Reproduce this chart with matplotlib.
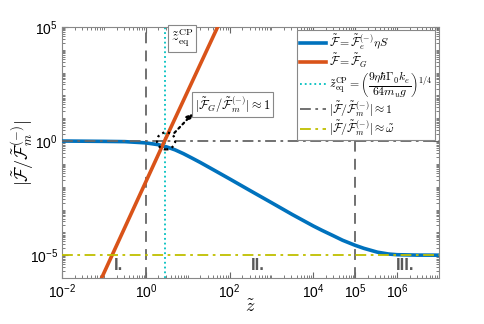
import numpy as np
import matplotlib
matplotlib.use('Agg')
import matplotlib.pyplot as plt
from matplotlib.patches import Ellipse
from matplotlib.ticker import LogLocator, NullFormatter, FixedLocator

plt.rcParams['mathtext.fontset'] = 'cm'
plt.rcParams['font.family'] = ['Liberation Sans', 'DejaVu Sans']

# values
z_blue = [1e-2, 0.1, 0.316, 1.0, 2.0, 3.16, 5.0, 7.9, 12.6, 20, 31.6, 56, 100,
          316, 1e3, 3.16e3, 1e4, 1.6e4, 3e4, 5e4, 1e5, 1.6e5, 3.4e5, 6.3e5,
          1e6, 3.16e6, 1e7]
F_blue = [1.0, 0.966, 0.94, 0.83, 0.69, 0.55, 0.41, 0.28, 0.18, 0.115, 0.072,
          0.040, 0.022, 6.6e-3, 2.0e-3, 6.0e-4, 1.9e-4, 1.23e-4, 7.1e-5,
          4.5e-5, 2.7e-5, 2.0e-5, 1.35e-5, 1.12e-5, 1.047e-5, 1.005e-5, 1.0e-5]

z_orange = [0.088, 2.8, 52]
F_orange = [1e-6, 1.0, 1e5]

z_eq = 2.9
omega = 1e-5
z_regions = [1.0, 1e5]

xticks = [1e-2, 1e0, 1e2, 1e4, 1e5, 1e6]
yticks = [1e-5, 1e0, 1e5]

blue = '#0072BD'
orange = '#D95319'
cyan = '#00BFBF'
gray = '#666666'
yellow = '#BFBF00'

fig = plt.figure(figsize=(4.85, 3.24), dpi=100)
ax = fig.add_axes([0.128, 0.142, 0.777, 0.775])

ax.plot(z_blue, F_blue, color=blue, lw=2.6, zorder=3,
        label=r'$\tilde{\mathcal{F}}=\tilde{\mathcal{F}}_e^{(-)}\eta S$')
ax.plot(z_orange, F_orange, color=orange, lw=2.6, zorder=3,
        label=r'$\tilde{\mathcal{F}}=\tilde{\mathcal{F}}_G$')
ax.axvline(z_eq, color=cyan, ls=':', lw=1.3, zorder=2,
           label=r'$\tilde{z}_{\rm eq}^{\rm CP}=\left(\dfrac{9\eta\hbar\Gamma_0 k_e}{64 m_u g}\right)^{1/4}$')
ax.axhline(1.0, color=gray, ls='-.', lw=1.3, zorder=4, dashes=(6, 2.5, 1.5, 2.5),
           label=r'$|\tilde{\mathcal{F}}/\tilde{\mathcal{F}}_m^{(-)}|\approx 1$')
ax.axhline(omega, color=yellow, ls='-.', lw=1.3, zorder=4, dashes=(6, 2.5, 1.5, 2.5),
           label=r'$|\tilde{\mathcal{F}}/\tilde{\mathcal{F}}_m^{(-)}|\approx\tilde{\omega}$')
for zr in z_regions:
    ax.axvline(zr, color=gray, ls='--', lw=1.3, dashes=(6, 4), zorder=2)

ax.set_xscale('log')
ax.set_yscale('log')
ax.set_xlim(1e-2, 1e7)
ax.set_ylim(1e-6, 1e5)

ax.xaxis.set_major_locator(FixedLocator(xticks))
ax.yaxis.set_major_locator(FixedLocator(yticks))
ax.xaxis.set_minor_locator(LogLocator(base=10, subs=np.arange(1, 10), numticks=100))
ax.yaxis.set_minor_locator(LogLocator(base=10, subs=np.arange(1, 10), numticks=100))
ax.xaxis.set_minor_formatter(NullFormatter())
ax.yaxis.set_minor_formatter(NullFormatter())
ax.tick_params(which='both', direction='in', top=True, right=True, color=gray)
ax.tick_params(which='major', length=4, labelsize=10, pad=3)
ax.tick_params(which='minor', length=2)
for s in ax.spines.values():
    s.set_color('#888888')

ax.set_xlabel(r'$\tilde{z}$', fontsize=13)
ax.set_ylabel(r'$|\tilde{\mathcal{F}}/\tilde{\mathcal{F}}_m^{(-)}|$', fontsize=13)
ax.xaxis.set_label_coords(0.5, -0.085)
ax.yaxis.set_label_coords(-0.07, 0.5)

leg = ax.legend(loc='upper right', fontsize=8.5, fancybox=False, framealpha=1,
                edgecolor='#888888', handlelength=2.2, handletextpad=0.3,
                borderpad=0.2, labelspacing=0.0, borderaxespad=0.3)
leg.get_frame().set_linewidth(0.8)

box = dict(boxstyle='square,pad=0.2', fc='white', ec='#888888', lw=0.8)
ax.text(0.289, 0.995, r'$\tilde{z}_{\rm eq}^{\rm CP}$', transform=ax.transAxes,
        fontsize=10, ha='left', va='top', bbox=box, zorder=6)
ax.text(0.352, 0.69, r'$|\tilde{\mathcal{F}}_G/\tilde{\mathcal{F}}_m^{(-)}|\approx 1$',
        transform=ax.transAxes, fontsize=9, ha='left', va='center', bbox=box, zorder=6)

ax.add_patch(Ellipse((0.276, 0.546), 0.048, 0.068, transform=ax.transAxes,
                     fill=False, ls=':', lw=1.6, ec='black', zorder=6))
ax.annotate('', xy=(0.347, 0.655), xytext=(0.298, 0.578),
            xycoords='axes fraction', textcoords='axes fraction',
            arrowprops=dict(arrowstyle='-|>', ls=':', lw=1.6, color='black',
                            mutation_scale=8, shrinkA=0, shrinkB=0), zorder=6)

for txt, zx in [('I.', 0.22), ('II.', 470), ('III.', 1.6e6)]:
    ax.text(zx, 10 ** -5.45, txt, fontsize=12, fontweight='bold', color='#595959',
            ha='center', va='center', zorder=5)

fig.savefig('out.png', dpi=100)
